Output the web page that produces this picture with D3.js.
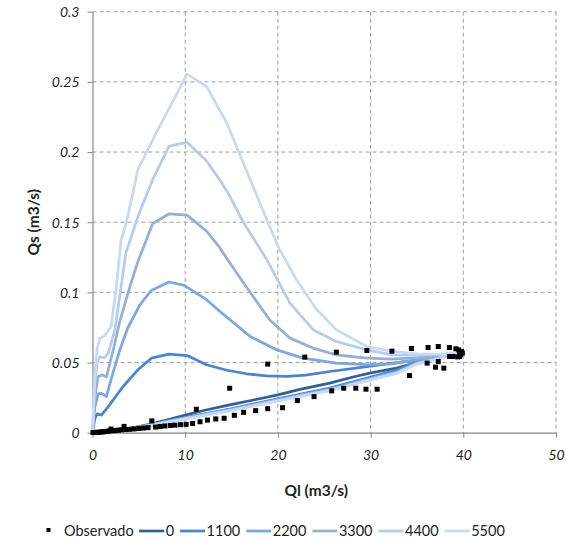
<!DOCTYPE html>
<html><head><meta charset="utf-8">
<script src="https://cdn.jsdelivr.net/npm/d3@7"></script>
<style>body{margin:0;background:#fff}</style>
</head><body><svg id="c" width="566" height="539"></svg>
<script>
const xTicks=[0,10,20,30,40,50];
const yTicks=[0,0.05,0.1,0.15,0.2,0.25,0.3];
const yTickLabels=["0","0.05","0.1","0.15","0.2","0.25","0.3"];
const xTitle="Ql (m3/s)", yTitle="Qs (m3/s)";
const seriesNames=["0","1100","2200","3300","4400","5500"];
const seriesColors=["#345E96","#4A86CF","#7DA8DE","#94B1D5","#B5CDEA","#C7DAF1"];

// Observado
const obsX=[0.05,0.2,0.4,0.6,0.8,1.0,1.2,1.4,1.6,1.8,2.0,2.2,2.5,2.8,3.1,3.4,3.6,4.0,4.5,5.0,5.5,6.0,6.4,6.8,7.3,7.8,8.4,8.9,9.5,10.1,10.8,11.2,11.6,12.4,13.3,14.2,14.8,15.3,16.3,17.6,18.9,18.9,20.5,22.1,22.9,23.9,25.8,26.3,27.1,28.4,29.5,29.6,30.7,32.3,34.2,34.4,36.1,36.2,37.0,37.3,37.3,37.9,38.5,38.5,38.9,39.2,39.4,39.6,39.6,39.8,39.9,39.7,39.5];
const obsY=[0.0001,0.0002,0.0002,0.0003,0.0004,0.0006,0.0007,0.0008,0.001,0.0012,0.0026,0.0014,0.0016,0.0018,0.002,0.0045,0.0022,0.0024,0.0027,0.003,0.0033,0.0036,0.0084,0.004,0.0044,0.0048,0.0051,0.0054,0.0057,0.006,0.0066,0.0167,0.0078,0.009,0.0098,0.0103,0.0317,0.0124,0.0145,0.0157,0.0171,0.0489,0.0178,0.0229,0.0539,0.0257,0.0298,0.0574,0.0317,0.0317,0.031,0.0586,0.031,0.0581,0.0407,0.06,0.0496,0.0607,0.0467,0.0507,0.0614,0.046,0.0607,0.0543,0.0543,0.0598,0.054,0.0543,0.0567,0.0579,0.0567,0.0556,0.059];

// series 0
const s0X=[0,2,4,6,8,10,12,14.8,17.5,20,22.5,25.6,28,29.9,32.8,34.5,36.4,38,39.5];
const s0Y=[0,0.001,0.003,0.0058,0.009,0.0125,0.0158,0.0198,0.0235,0.0269,0.031,0.0353,0.0395,0.0424,0.046,0.049,0.052,0.0545,0.0565];
// series 1100..5500 (rising limb then return limb)
const s1100X=[0,0.25,0.5,0.95,1.7,3.3,4.9,6.35,8.25,10.2,12.3,14.5,16.6,18.8,21,23,25.6,29.2,32.8,36.4,39.5, 37,35,32.8,29.9,25.6,20,14.8,10,5,2,0];
const s1100Y=[0,0.01,0.0134,0.0126,0.0186,0.0329,0.0448,0.0531,0.056,0.055,0.0484,0.0445,0.042,0.0405,0.0402,0.041,0.0436,0.0467,0.05,0.053,0.0565, 0.0535,0.0505,0.0445,0.0395,0.0318,0.0242,0.0168,0.0108,0.0042,0.0013,0];
const s2200X=[0,0.25,0.6,1.0,1.5,2.2,2.9,3.8,5.1,6.35,8.25,9.9,12.3,13.75,17,19.9,22.7,26.3,29.6,32.3,35,37.5,39.5, 37,35,32.8,29.9,25.6,20,14.8,10,5,2,0];
const s2200Y=[0,0.018,0.0276,0.028,0.0257,0.0424,0.058,0.0746,0.091,0.1014,0.1074,0.105,0.0948,0.0864,0.0686,0.059,0.0531,0.0496,0.0485,0.049,0.052,0.0545,0.0565, 0.053,0.0498,0.0432,0.0385,0.031,0.0235,0.0164,0.0105,0.004,0.0012,0];
const s3300X=[0,0.25,0.6,1.1,1.5,2.2,2.9,3.8,4.9,6.5,8.25,10.2,12.3,13.75,14.6,16.3,19.1,21.3,23.8,26.3,29.6,32.3,35,37.5,39.5, 37,35,32.8,29.9,25.6,20,14.8,10,5,2,0];
const s3300Y=[0,0.025,0.04,0.0412,0.0396,0.058,0.078,0.099,0.122,0.149,0.156,0.155,0.1436,0.1317,0.123,0.1067,0.0805,0.0674,0.0603,0.0555,0.0531,0.0525,0.0535,0.055,0.0565, 0.0527,0.0495,0.0428,0.0381,0.0306,0.0232,0.0161,0.0102,0.0038,0.0011,0];
const s4400X=[0,0.25,0.5,0.8,1.3,1.7,2.4,3.0,3.6,4.9,6.5,8.25,10.2,12.3,13.75,14.6,16.3,18.8,21.3,23.8,26.3,29.6,32.3,35,37.5,39.5, 37,35,32.8,29.9,25.6,20,14.8,10,5,2,0];
const s4400Y=[0,0.035,0.05,0.054,0.0535,0.0567,0.073,0.1,0.128,0.154,0.1805,0.204,0.207,0.1936,0.18,0.171,0.1496,0.1234,0.0924,0.0734,0.065,0.059,0.0555,0.0552,0.0558,0.0565, 0.0524,0.0492,0.0425,0.0378,0.0303,0.0229,0.0158,0.01,0.0036,0.001,0];
const s5500X=[0,0.25,0.5,0.8,1.3,2.0,2.5,3.1,3.65,4.9,6.7,8.25,10.2,12.3,14.5,17.3,20,22,24.2,26.3,29.6,32.3,35,37.5,39.5, 37,35,32.8,29.9,25.6,20,14.8,10,5,2,0];
const s5500Y=[0,0.04,0.06,0.0674,0.069,0.0757,0.1,0.1376,0.1495,0.1875,0.2114,0.231,0.2555,0.2467,0.2205,0.1757,0.1329,0.109,0.0876,0.0734,0.0614,0.0579,0.0562,0.056,0.0565, 0.0521,0.0489,0.0422,0.0375,0.03,0.0226,0.0155,0.0098,0.0034,0.0009,0];

const seriesX=[s0X,s1100X,s2200X,s3300X,s4400X,s5500X];
const seriesY=[s0Y,s1100Y,s2200Y,s3300Y,s4400Y,s5500Y];

const pLeft=92.5,pRight=556,pTop=11.7,pBottom=432.7;
const svg=d3.select("#c");
const x=d3.scaleLinear().domain([0,50]).range([pLeft,pRight]);
const y=d3.scaleLinear().domain([0,0.3]).range([pBottom,pTop]);
const FONT="Lato, 'Open Sans', sans-serif";
const gridColor="#a0a0a0", axisColor="#868686";

// grid
svg.append("g").selectAll("line").data(yTicks.filter(d=>d>0)).join("line")
  .attr("x1",pLeft).attr("x2",pRight).attr("y1",d=>y(d)).attr("y2",d=>y(d))
  .attr("stroke",gridColor).attr("stroke-width",1).attr("stroke-dasharray","4,3");
svg.append("g").selectAll("line").data(xTicks.filter(d=>d>0)).join("line")
  .attr("x1",d=>x(d)).attr("x2",d=>x(d)).attr("y1",pTop).attr("y2",pBottom)
  .attr("stroke",gridColor).attr("stroke-width",1).attr("stroke-dasharray","4,3");

// axes
const ax=svg.append("g").attr("transform",`translate(0,${pBottom})`)
  .call(d3.axisBottom(x).tickValues(xTicks).tickSize(5).tickSizeOuter(0).tickPadding(15));
const ay=svg.append("g").attr("transform",`translate(${pLeft},0)`)
  .call(d3.axisLeft(y).tickValues(yTicks).tickFormat((d,i)=>yTickLabels[i]).tickSize(5).tickSizeOuter(0).tickPadding(8));
[ax,ay].forEach(g=>{
  g.select(".domain").attr("stroke",axisColor).attr("stroke-width",1.2);
  g.selectAll(".tick line").attr("stroke",axisColor);
  g.selectAll(".tick text").attr("font-family",FONT).attr("font-style","italic")
    .attr("font-size",14).attr("fill","#222");
});
ax.selectAll(".tick text").attr("dy","0.5em");
ay.selectAll(".tick text").attr("dy","0.35em");

// lines
const line=d3.line().x(d=>x(d[0])).y(d=>y(d[1]));
const lg=svg.append("g").attr("fill","none");
seriesNames.forEach((n,i)=>{
  const pts=seriesX[i].map((v,j)=>[v,seriesY[i][j]]);
  lg.append("path").attr("d",line(pts)).attr("stroke",seriesColors[i])
    .attr("stroke-width",2.75).attr("stroke-linejoin","round").attr("stroke-linecap","round");
});

// observed points
svg.append("g").selectAll("rect").data(obsX.map((v,i)=>[v,obsY[i]])).join("rect")
  .attr("x",d=>x(d[0])-2.5).attr("y",d=>y(d[1])-2.5).attr("width",5).attr("height",5).attr("fill","#000");

// titles
svg.append("text").attr("x",(pLeft+pRight)/2-8).attr("y",496).attr("text-anchor","middle")
  .attr("font-family",FONT).attr("font-weight","bold").attr("font-size",15.5).attr("fill","#222").text(xTitle);
svg.append("text").attr("transform",`translate(39,${(pTop+pBottom)/2}) rotate(-90)`).attr("text-anchor","middle")
  .attr("font-family",FONT).attr("font-weight","bold").attr("font-size",15.5).attr("fill","#222").text(yTitle);

// legend
const leg=svg.append("g");
const ly=531;
let cx=46.5;
leg.append("rect").attr("x",cx).attr("y",ly-3).attr("width",4).attr("height",4).attr("fill","#000");
cx+=17.5;
const t0=leg.append("text").attr("x",cx).attr("y",ly+5).attr("font-family",FONT).attr("font-size",14.5).attr("fill","#222").text("Observado");
cx+=t0.node().getComputedTextLength()+5.5;
seriesNames.forEach((n,i)=>{
  leg.append("line").attr("x1",cx).attr("x2",cx+25).attr("y1",ly).attr("y2",ly)
    .attr("stroke",seriesColors[i]).attr("stroke-width",2.75);
  cx+=26.5;
  const t=leg.append("text").attr("x",cx).attr("y",ly+5).attr("font-family",FONT).attr("font-size",14.5).attr("fill","#222").text(n);
  cx+=t.node().getComputedTextLength()+6;
});
</script></body></html>
